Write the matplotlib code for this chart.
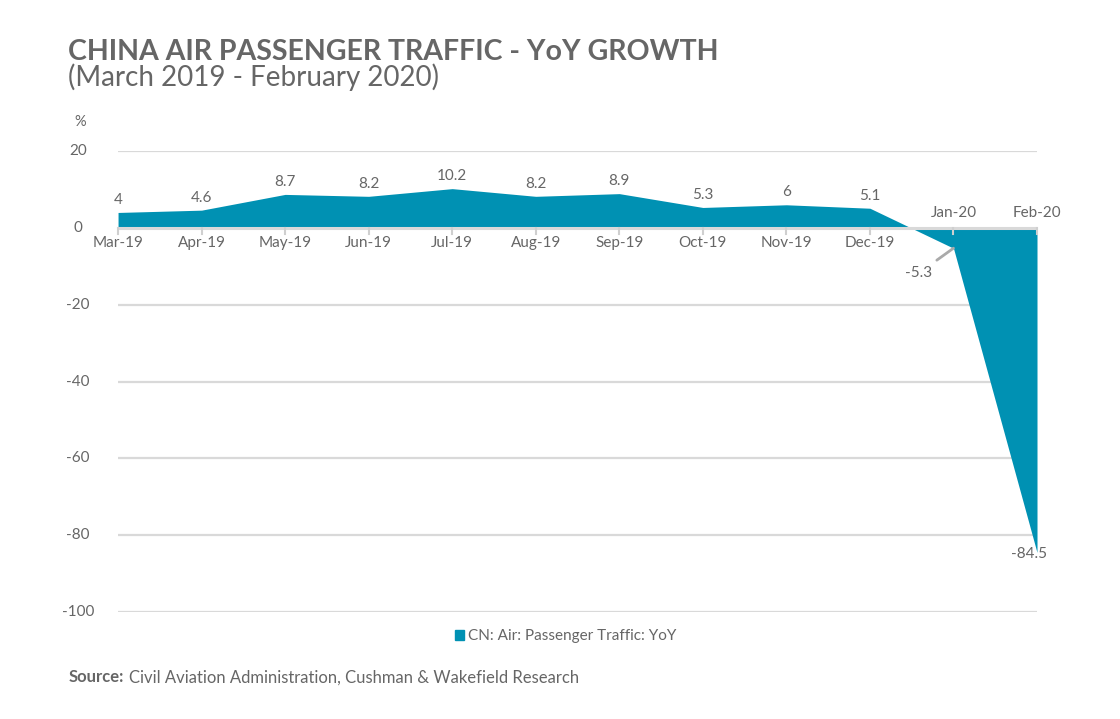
import matplotlib
matplotlib.use("Agg")
from matplotlib import pyplot as plt
from matplotlib.patches import Patch

months = ['Mar-19', 'Apr-19', 'May-19', 'Jun-19', 'Jul-19', 'Aug-19',
          'Sep-19', 'Oct-19', 'Nov-19', 'Dec-19', 'Jan-20', 'Feb-20']
yoy = [4, 4.6, 8.7, 8.2, 10.2, 8.2, 8.9, 5.3, 6, 5.1, -5.3, -84.5]
y_ticks = [20, 0, -20, -40, -60, -80, -100]

teal = '#0091b3'
grey = '#666666'
grid_col = '#d9d9d9'

plt.rcParams['font.family'] = ['Lato', 'DejaVu Sans']

fig = plt.figure(figsize=[11.2, 7.19], dpi=100)
ax = fig.add_axes([0.1054, 0.1488, 0.8205, 0.6412])

x = list(range(len(months)))
ax.fill_between(x, yoy, 0, color=teal, linewidth=0, interpolate=True, zorder=2)

ax.set_xlim(0, len(months) - 1)
ax.set_ylim(-100, 20)
for t in y_ticks:
    ax.axhline(t, color=grid_col, linewidth=2.2 if t == 0 else 1.6, zorder=1 if t != 0 else 3)

for s in ax.spines.values():
    s.set_visible(False)
ax.set_xticks([])
ax.set_yticks([])

# y labels
for t in y_ticks:
    ax.annotate(str(t), xy=(0, t), xycoords=('axes fraction', 'data'),
                xytext=(-29, 0), textcoords='offset points',
                ha='center', va='center', fontsize=11, color=grey)
ax.annotate('%', xy=(0, 20), xycoords=('axes fraction', 'data'),
            xytext=(-27, 21), textcoords='offset points',
            ha='center', va='center', fontsize=10.5, color=grey)

# x labels and tick marks
for i, m in enumerate(months):
    ax.plot([i, i], [0, -1.6], color='#cfcfcf', linewidth=1.5, zorder=3, clip_on=False)
    if yoy[i] >= 0:
        ax.annotate(m, xy=(i, 0), xytext=(0, -11), textcoords='offset points',
                    ha='center', va='center', fontsize=11, color=grey)
    else:
        ax.annotate(m, xy=(i, 0), xytext=(0, 11), textcoords='offset points',
                    ha='center', va='center', fontsize=11, color=grey)

# data labels
for i, v in enumerate(yoy):
    lab = f'{v:g}'
    if i == 10:
        ax.annotate(lab, xy=(i, v), xytext=(-25, -18), textcoords='offset points',
                    ha='center', va='center', fontsize=11, color=grey,
                    arrowprops=dict(arrowstyle='-', color='#aaaaaa', lw=2,
                                    shrinkA=4, shrinkB=0))
    elif v < 0:
        ax.annotate(lab, xy=(i, v), xytext=(-6, -1), textcoords='offset points',
                    ha='center', va='center', fontsize=11, color=grey)
    else:
        ax.annotate(lab, xy=(i, v), xytext=(0, 9), textcoords='offset points',
                    ha='center', va='center', fontsize=11, color=grey)

fig.text(0.061, 0.928, 'CHINA AIR PASSENGER TRAFFIC - YoY GROWTH', fontsize=20.5,
         fontweight='bold', color=grey, ha='left', va='center')
fig.text(0.061, 0.892, '(March 2019 - February 2020)', fontsize=20,
         color=grey, ha='left', va='center')

leg = fig.legend(handles=[Patch(color=teal, label='CN: Air: Passenger Traffic: YoY')],
                 loc='center', bbox_to_anchor=(0.505, 0.115), frameon=False,
                 fontsize=11, handlelength=0.6, handleheight=0.6, handletextpad=0.3)
for t in leg.get_texts():
    t.set_color(grey)

fig.text(0.061, 0.058, 'Source:', fontsize=12, fontweight='bold', color=grey,
         ha='left', va='center')
fig.text(0.115, 0.058, 'Civil Aviation Administration, Cushman & Wakefield Research',
         fontsize=12, color=grey, ha='left', va='center')

fig.savefig('out.png', dpi=100)
